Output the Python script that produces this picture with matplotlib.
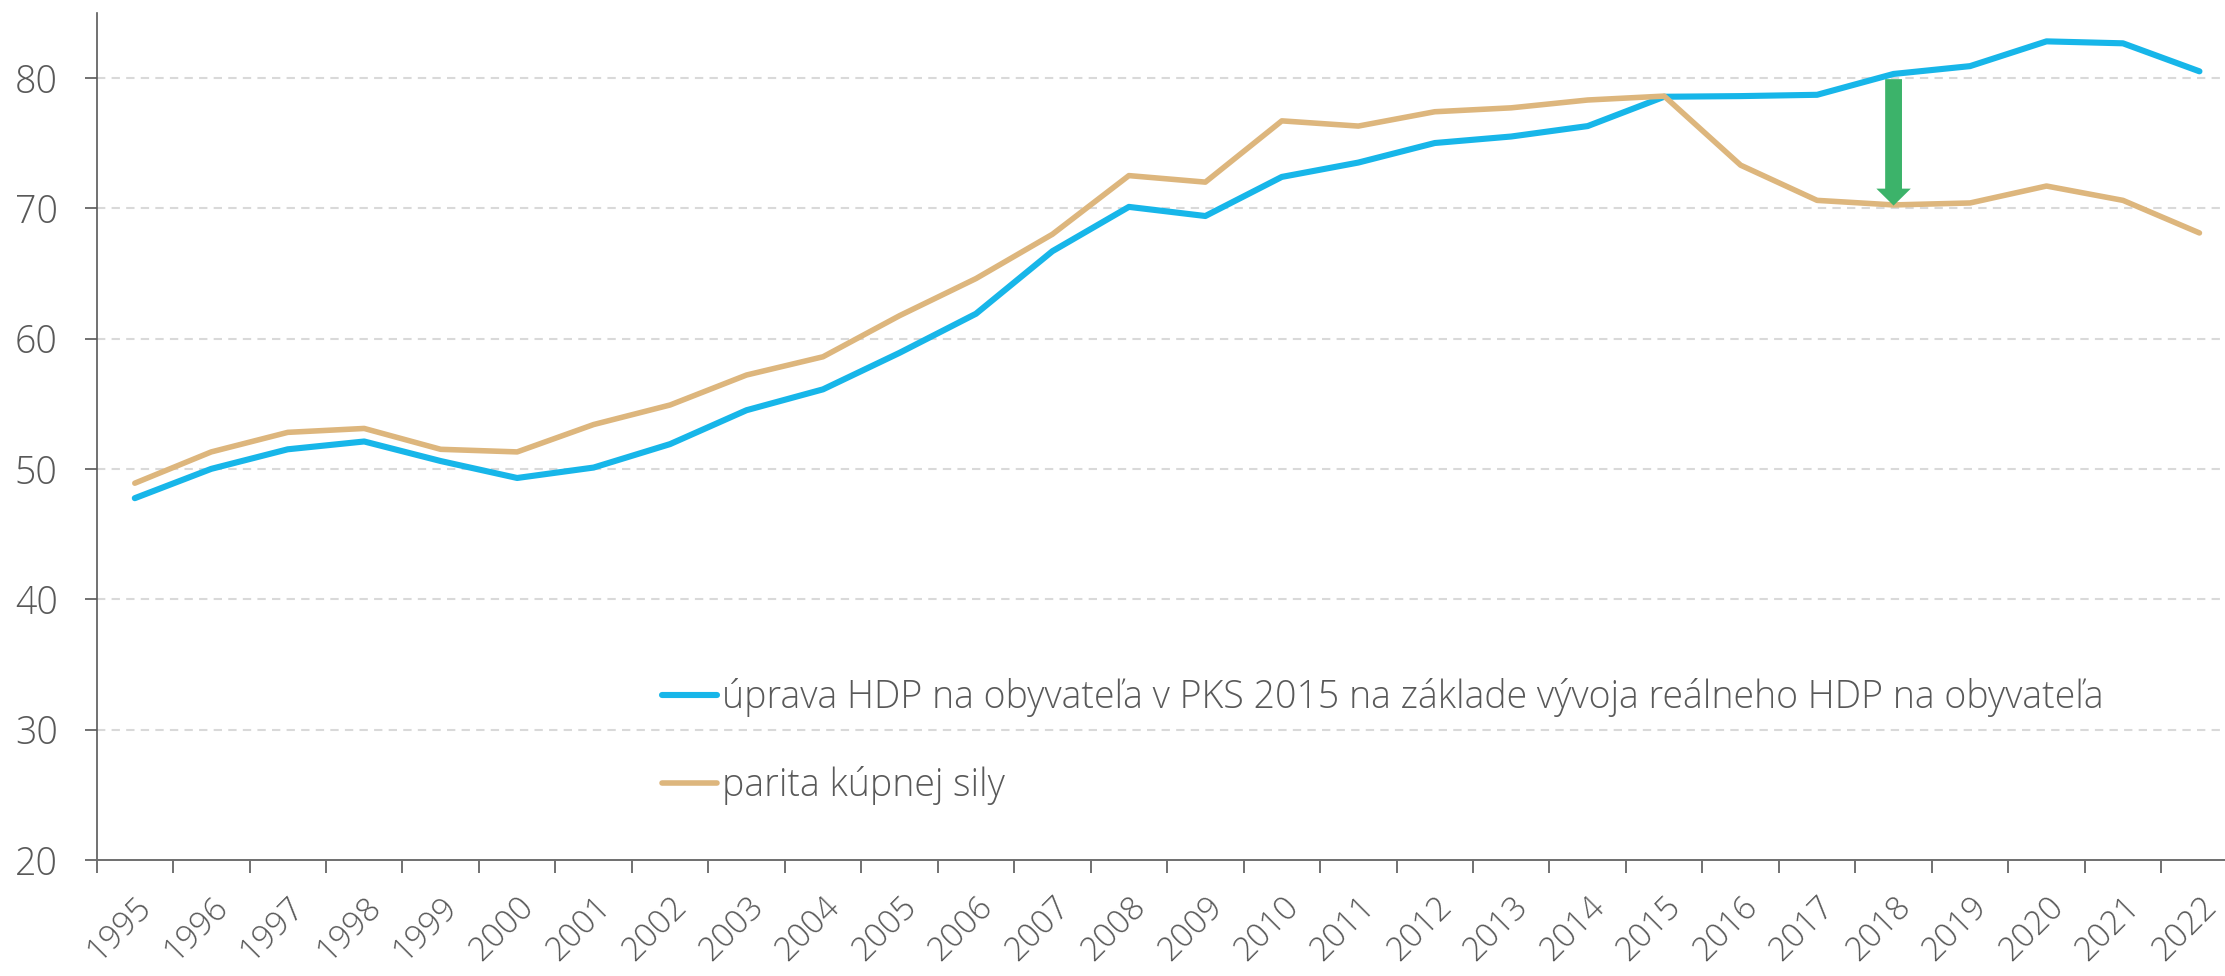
import matplotlib
matplotlib.use("Agg")
import matplotlib.pyplot as plt
import numpy as np

# data
years = [str(y) for y in range(1995, 2023)]
hdp_upraveny = [47.75, 50.0, 51.5, 52.1, 50.6, 49.3, 50.1, 51.9, 54.5, 56.1,
                58.9, 61.9, 66.7, 70.1, 69.4, 72.4, 73.5, 75.0, 75.5, 76.3,
                78.55, 78.6, 78.7, 80.3, 80.9, 82.8, 82.65, 80.5]
pks = [48.9, 51.3, 52.8, 53.1, 51.5, 51.3, 53.4, 54.9, 57.2, 58.6,
       61.75, 64.6, 68.0, 72.5, 72.0, 76.7, 76.3, 77.4, 77.7, 78.3,
       78.6, 73.3, 70.6, 70.25, 70.4, 71.7, 70.6, 68.1]
labels = ["úprava HDP na obyvateľa v PKS 2015 na základe vývoja reálneho HDP na obyvateľa",
          "parita kúpnej sily"]
arrow_year = "2018"
arrow_from = 79.9
arrow_to = 70.2

blue = '#17B6E9'
tan = '#DDB67D'
green = '#3CB36A'
grey = '#595959'

plt.rcParams['font.family'] = ['Open Sans', 'DejaVu Sans']

fig = plt.figure(figsize=(22.25, 9.76), dpi=100)
ax = fig.add_axes([0.0434, 0.119, 0.9623, 0.868])

x = np.arange(len(years))
ax.plot(x, hdp_upraveny, color=blue, lw=4.4, label=labels[0], solid_capstyle='round', zorder=3)
ax.plot(x, pks, color=tan, lw=4.0, label=labels[1], solid_capstyle='round', zorder=3)

xi = years.index(arrow_year)
ax.arrow(xi, arrow_from, 0, arrow_to - arrow_from, width=0.22, head_width=0.45,
         head_length=1.3, length_includes_head=True, color=green, lw=0, zorder=4)

ax.set_xlim(-0.5, len(years) - 0.5)
ax.set_ylim(20, 85)
ax.set_yticks(range(20, 81, 10))
ax.set_xticks(x)
ax.set_xticklabels(years, rotation=45, ha='right', rotation_mode='anchor')
ax.set_xticks(np.arange(-0.5, len(years), 1), minor=True)

for y in range(30, 81, 10):
    ax.axhline(y, color='#D9D9D9', lw=1.5, ls=(0, (4, 3)), zorder=1)

for s in ['top', 'right']:
    ax.spines[s].set_visible(False)
ax.spines['left'].set_color(grey)
ax.spines['left'].set_linewidth(1.2)
ax.spines['bottom'].set_color('#6F6F6F')
ax.spines['bottom'].set_linewidth(1.4)

ax.tick_params(axis='y', labelsize=27, colors=grey, length=9, width=1.2, pad=19)
ax.tick_params(axis='x', which='major', labelsize=24, colors=grey, length=0, pad=22)
ax.tick_params(axis='x', which='minor', colors=grey, length=9, width=1.2)
for t in ax.get_xticklabels() + ax.get_yticklabels():
    t.set_fontweight('light')

leg = ax.legend(loc='upper left', bbox_to_anchor=(0.2975, 0.305), bbox_transform=fig.transFigure,
                frameon=False, fontsize=27, handlelength=1.48, handletextpad=0.13,
                labelspacing=1.3, borderpad=0, borderaxespad=0)
for t in leg.get_texts():
    t.set_color(grey)
    t.set_fontweight('light')

fig.savefig("out.png", dpi=100)
